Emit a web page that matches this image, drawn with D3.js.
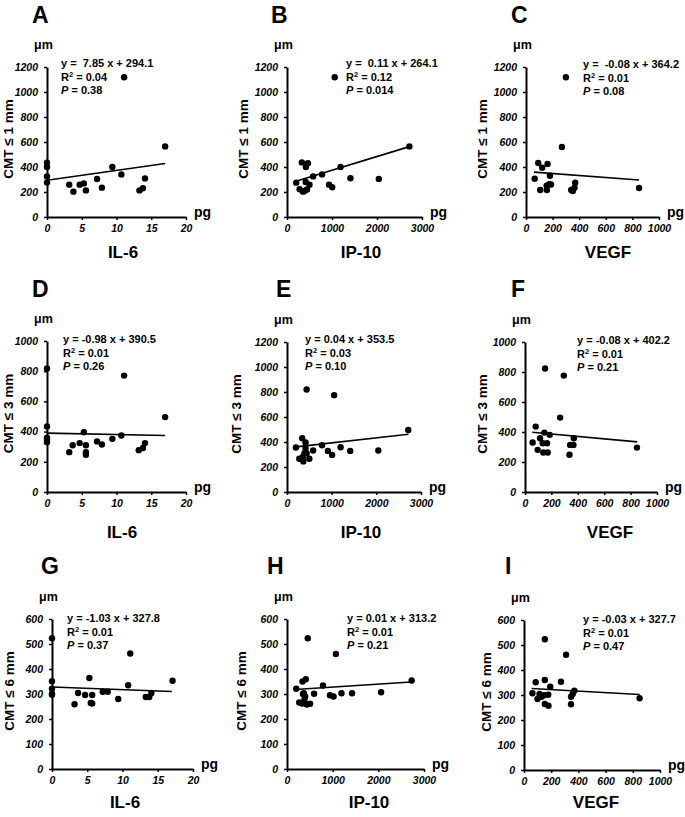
<!DOCTYPE html>
<html>
<head>
<meta charset="utf-8">
<script src="https://cdn.jsdelivr.net/npm/d3@7"></script>
<style>
  html, body { margin: 0; padding: 0; background: #fff; }
  svg text { font-family: "Liberation Sans", Arial, Helvetica, sans-serif; font-weight: bold; fill: #000; }
</style>
</head>
<body>
<svg id="chart" width="685" height="817"></svg>
<script>
// ---------------- DATA ----------------
const panelLetters = ["A","B","C","D","E","F","G","H","I"];
const cytokines = ["IL-6","IP-10","VEGF"];
const yLabels = ["CMT \u2264 1 mm","CMT \u2264 3 mm","CMT \u2264 6 mm"];

const xTicksIL6  = [0,5,10,15,20];
const xTicksIP10 = [0,1000,2000,3000];
const xTicksVEGF = [0,200,400,600,800,1000];
const yTicks1200 = [0,200,400,600,800,1000,1200];
const yTicks1000 = [0,200,400,600,800,1000];
const yTicks600  = [0,100,200,300,400,500,600];

const ptsA = [[0,435],[0,400],[0,325],[0,277],[3.2,259],[3.8,203],[4.7,259],[5.3,269],[5.6,213],[7.2,304],[7.9,235],[9.4,400],[10.7,341],[11.1,1118],[13.3,213],[13.8,230],[14.1,309],[17,565]];
const ptsB = [[205,275],[280,222],[330,437],[355,203],[395,210],[420,400],[415,280],[465,430],[445,220],[500,258],[580,325],[780,341],[935,259],[1005,238],[1060,1118],[1190,400],[1410,310],[2040,305],[2720,565]];
const ptsC = [[65,307],[92,432],[107,216],[122,395],[155,251],[162,425],[157,216],[175,262],[180,330],[188,260],[270,560],[300,1118],[340,216],[352,208],[365,235],[370,275],[850,232]];
const ptsD = [[0,818],[0,434],[0,360],[0,345],[0,330],[3.2,264],[3.7,310],[4.7,324],[5.3,396],[5.6,310],[5.6,264],[5.6,247],[7.2,335],[7.9,315],[9.4,352],[10.7,374],[11.1,771],[13.2,277],[13.8,291],[14.1,324],[17,496]];
const ptsE = [[200,356],[275,266],[340,430],[355,280],[415,396],[390,311],[440,820],[365,245],[440,310],[500,266],[585,332],[785,374],[915,329],[1010,297],[1055,775],[1200,358],[1415,329],[2045,332],[2715,496],[415,350]];
const ptsF = [[58,330],[81,436],[96,281],[114,358],[139,263],[147,396],[134,325],[167,325],[172,263],[187,381],[152,823],[266,496],[294,776],[337,248],[342,314],[367,314],[370,358],[848,296]];
const ptsG = [[0,523],[0,351],[0,321],[0,301],[0,297],[3.2,259],[3.7,304],[4.7,296],[5.3,364],[5.7,296],[5.5,264],[5.7,262],[7.2,309],[7.9,309],[9.4,280],[10.8,335],[11.1,462],[13.3,288],[13.8,288],[14.1,304],[17.1,353]];
const ptsH = [[202,321],[267,266],[340,350],[369,303],[383,279],[412,359],[398,290],[434,258],[455,523],[506,261],[593,301],[788,334],[940,295],[1020,290],[1070,460],[1193,303],[1424,303],[2060,307],[2730,354],[330,262],[350,300]];
const ptsI = [[62,307],[86,351],[99,284],[114,304],[128,293],[148,299],[153,523],[153,360],[153,264],[178,301],[180,257],[193,333],[272,353],[309,461],[346,263],[346,293],[358,304],[370,317],[850,287]];

// regression lines [x0, y0, x1, y1]
const fitA = [0,294,17,428];
const fitB = [180,284,2720,563];
const fitC = [60,359,850,296];
const fitD = [0,390,17,374];
const fitE = [200,361,2720,462];
const fitF = [55,398,850,334];
const fitG = [0,328,17,310];
const fitH = [180,318,2720,348];
const fitI = [55,326,850,302];

const eqText = ["y =  7.85 x + 294.1","y =  0.11 x + 264.1","y =  -0.08 x + 364.2",
                "y = -0.98 x + 390.5","y = 0.04 x + 353.5","y = -0.08 x + 402.2",
                "y = -1.03 x + 327.8","y = 0.01 x + 313.2","y = -0.03 x + 327.7"];
const r2Text = ["0.04","0.12","0.01","0.01","0.03","0.01","0.01","0.01","0.01"];
const pText  = ["0.38","0.014","0.08","0.26","0.10","0.21","0.37","0.21","0.47"];

// ---------------- LAYOUT ----------------
const pts = [ptsA,ptsB,ptsC,ptsD,ptsE,ptsF,ptsG,ptsH,ptsI];
const fits = [fitA,fitB,fitC,fitD,fitE,fitF,fitG,fitH,fitI];
const xTickSets = [xTicksIL6,xTicksIP10,xTicksVEGF];
const yTickSets = [yTicks1200,yTicks1200,yTicks1200,yTicks1000,yTicks1200,yTicks1000,yTicks600,yTicks600,yTicks600];

// left, right, top, bottom of axes
const geo = [
  [47,186,67,217],[287,422,67,217],[526,659,67,217],
  [47,186,341,492],[287,421,342,492],[525,657,342,492],
  [52,193,619,769],[287,424,619,769],[524,660,620,770]
];
const eqPos = [[61,67],[346,67],[583,68],[63,343],[305,343],[577,344],[67,622],[347,622],[583,623]];
const yLabX = [8,243,482,8,236,482,9,241,486];
const letterPos = [[32,23],[271,23],[511,23],[32,297],[276,297],[511,297],[41,574],[267,574],[505,574]];
const titlePos = [[123,258],[361,258],[608,258],[122,538],[361,538],[610,538],[125,808],[369,808],[596,808]];

const svg = d3.select("#chart");

for (let i = 0; i < 9; i++) {
  const col = i % 3, row = Math.floor(i / 3);
  const [L, R, T, B] = geo[i];
  const xt = xTickSets[col], yt = yTickSets[i];
  const x = d3.scaleLinear().domain([xt[0], xt[xt.length-1]]).range([L, R]);
  const y = d3.scaleLinear().domain([yt[0], yt[yt.length-1]]).range([B, T]);
  const g = svg.append("g");

  // axes
  const xa = g.append("g").attr("transform", `translate(0,${B})`)
    .call(d3.axisBottom(x).tickValues(xt).tickSize(3).tickSizeOuter(0).tickPadding(5).tickFormat(d3.format("d")));
  const ya = g.append("g").attr("transform", `translate(${L},0)`)
    .call(d3.axisLeft(y).tickValues(yt).tickSize(3).tickSizeOuter(0).tickPadding(6).tickFormat(d3.format("d")));
  [xa, ya].forEach(a => {
    a.select(".domain").attr("stroke", "#000").attr("stroke-width", 2);
    a.selectAll(".tick line").attr("stroke", "#000").attr("stroke-width", 1.5);
    a.selectAll(".tick text")
      .style("font-family", '"Liberation Sans", Arial, sans-serif')
      .style("font-weight", "bold").style("font-style", "italic")
      .style("font-size", "10.5px").attr("fill", "#000");
  });

  // fit line
  const f = fits[i];
  g.append("line")
    .attr("x1", x(f[0])).attr("y1", y(f[1]))
    .attr("x2", x(f[2])).attr("y2", y(f[3]))
    .attr("stroke", "#000").attr("stroke-width", 1.6);

  // points
  g.selectAll("circle.pt").data(pts[i]).enter().append("circle")
    .attr("class", "pt")
    .attr("cx", d => x(d[0])).attr("cy", d => y(d[1]))
    .attr("r", 3.2).attr("fill", "#000");

  // panel letter
  g.append("text").attr("x", letterPos[i][0]).attr("y", letterPos[i][1])
    .style("font-size", "23px").text(panelLetters[i]);

  // unit
  g.append("text").attr("x", L - 13).attr("y", T - 18)
    .style("font-size", "12.5px").text("\u03bcm");

  // pg
  g.append("text").attr("x", R + 8).attr("y", B)
    .style("font-size", "14px").text("pg");

  // y label
  g.append("text")
    .attr("transform", `translate(${yLabX[i]},${(T + B) / 2 - 3}) rotate(-90)`)
    .attr("text-anchor", "middle").attr("dominant-baseline", "central")
    .style("font-size", "13.5px").text(yLabels[row]);

  // x title
  g.append("text").attr("x", titlePos[i][0]).attr("y", titlePos[i][1])
    .attr("text-anchor", "middle").style("font-size", "17px").text(cytokines[col]);

  // equation block
  const [ex, ey] = eqPos[i];
  g.append("text").attr("x", ex).attr("y", ey)
    .attr("xml:space", "preserve").style("white-space", "pre")
    .style("font-size", "11px").text(eqText[i]);
  const r2 = g.append("text").attr("x", ex).attr("y", ey + 13.5).style("font-size", "11px");
  r2.append("tspan").text("R");
  r2.append("tspan").attr("dy", -4).style("font-size", "7.5px").text("2");
  r2.append("tspan").attr("dy", 4).text(" = " + r2Text[i]);
  const p = g.append("text").attr("x", ex).attr("y", ey + 27).style("font-size", "11px");
  p.append("tspan").style("font-style", "italic").text("P");
  p.append("tspan").attr("xml:space", "preserve").text(" = " + pText[i]);
}
</script>
</body>
</html>
